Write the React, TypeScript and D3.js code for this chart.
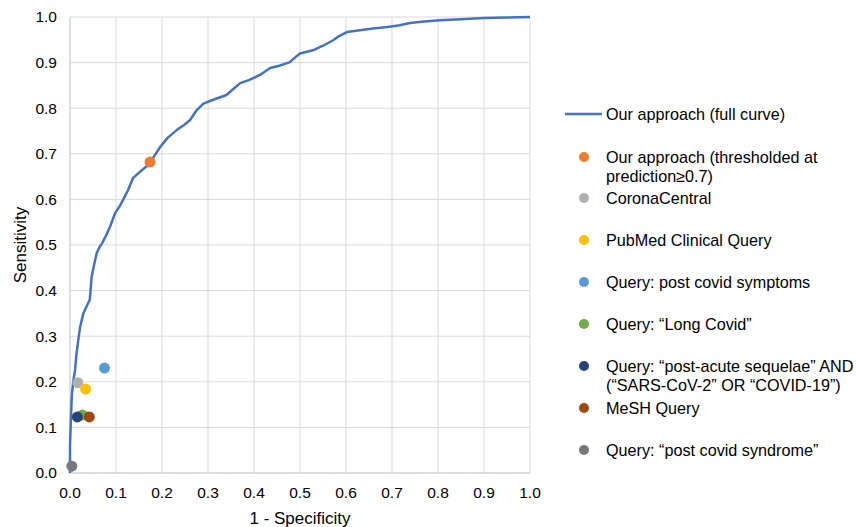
import React from 'react';
import * as d3 from 'd3';

// ROC curve
const curveFpr = [0, 0.0, 0.002, 0.004, 0.007, 0.011, 0.014, 0.018, 0.022, 0.029, 0.036, 0.043, 0.047, 0.052, 0.058, 0.064, 0.07, 0.078, 0.087, 0.098, 0.108, 0.116, 0.126, 0.137, 0.146, 0.156, 0.166, 0.174, 0.185, 0.196, 0.212, 0.232, 0.248, 0.261, 0.275, 0.29, 0.31, 0.34, 0.355, 0.37, 0.39, 0.413, 0.435, 0.455, 0.478, 0.49, 0.5, 0.528, 0.55, 0.572, 0.585, 0.602, 0.63, 0.659, 0.69, 0.717, 0.739, 0.77, 0.804, 0.85, 0.9, 0.95, 1.0];
const curveTpr = [0, 0.06, 0.12, 0.17, 0.2, 0.226, 0.26, 0.292, 0.32, 0.35, 0.365, 0.38, 0.43, 0.455, 0.482, 0.495, 0.504, 0.52, 0.54, 0.57, 0.585, 0.6, 0.62, 0.647, 0.655, 0.664, 0.672, 0.68, 0.698, 0.715, 0.735, 0.752, 0.763, 0.774, 0.795, 0.81, 0.818, 0.829, 0.842, 0.855, 0.862, 0.873, 0.888, 0.893, 0.901, 0.912, 0.92, 0.927, 0.937, 0.949, 0.958, 0.967, 0.971, 0.975, 0.978, 0.982, 0.987, 0.99, 0.993, 0.995, 0.998, 0.999, 1.0];

const pointNames = [
  ['Our approach (thresholded at', 'prediction\u22650.7)'],
  ['CoronaCentral'],
  ['PubMed Clinical Query'],
  ['Query: post covid symptoms'],
  ['Query: \u201cLong Covid\u201d'],
  ['Query: \u201cpost-acute sequelae\u201d AND', '(\u201cSARS-CoV-2\u201d OR \u201cCOVID-19\u201d)'],
  ['MeSH Query'],
  ['Query: \u201cpost covid syndrome\u201d'],
];
const pointFpr = [0.174, 0.017, 0.034, 0.075, 0.027, 0.016, 0.042, 0.004];
const pointTpr = [0.682, 0.198, 0.184, 0.23, 0.127, 0.123, 0.123, 0.015];
const pointColors = ['#ED7D31', '#AFAFAF', '#FFC000', '#5B9BD5', '#70AD47', '#264478', '#9E480E', '#787878'];
const legendRows = [157, 198, 240, 282, 324, 366, 408, 450];

const ticks = d3.range(0, 1.0001, 0.1);

const W = 856, H = 527;
const font = 'Liberation Sans, Arial, sans-serif';

export default function App() {
  const x = d3.scaleLinear().domain([0, 1]).range([70, 530]);
  const y = d3.scaleLinear().domain([0, 1]).range([473, 17]);
  const line = d3.line<number>()
    .x((_, i) => x(curveFpr[i]))
    .y((d) => y(d));

  return (
    <svg width={W} height={H} style={{ position: 'absolute', left: 0, top: 0 }} fontFamily={font}>
      <rect width={W} height={H} fill="#fff" />
      {ticks.map((t, i) => (
        <g key={'g' + i}>
          {i > 0 && <line x1={x(t)} x2={x(t)} y1={y(0)} y2={y(1)} stroke="#d9d9d9" strokeWidth={1} />}
          {i > 0 && <line x1={x(0)} x2={x(1)} y1={y(t)} y2={y(t)} stroke="#d9d9d9" strokeWidth={1} />}
        </g>
      ))}
      <line x1={x(0)} x2={x(0)} y1={y(0)} y2={y(1)} stroke="#bfbfbf" strokeWidth={1} />
      <line x1={x(0)} x2={x(1)} y1={y(0)} y2={y(0)} stroke="#bfbfbf" strokeWidth={1} />
      {ticks.map((t, i) => (
        <text key={'yt' + i} x={57} y={y(t)} dy="0.35em" textAnchor="end" fontSize={15.5} fill="#000">
          {t.toFixed(1)}
        </text>
      ))}
      {ticks.map((t, i) => (
        <text key={'xt' + i} x={x(t)} y={493} dy="0.35em" textAnchor="middle" fontSize={15.5} fill="#000">
          {t.toFixed(1)}
        </text>
      ))}
      <text x={x(0.5)} y={518} dy="0.35em" textAnchor="middle" fontSize={17} fill="#000">1 - Specificity</text>
      <text transform={`translate(20,${y(0.5)}) rotate(-90)`} dy="0.35em" textAnchor="middle" fontSize={17} fill="#000">Sensitivity</text>
      <path d={line(curveTpr) || ''} fill="none" stroke="#4472C4" strokeWidth={2.5} strokeLinejoin="round" />
      {pointFpr.map((f, i) => (
        <circle key={'p' + i} cx={x(f)} cy={y(pointTpr[i])} r={5.5} fill={pointColors[i]} />
      ))}
      <line x1={565} x2={602} y1={114} y2={114} stroke="#4472C4" strokeWidth={2.5} />
      <text x={606} y={114} dy="0.35em" fontSize={16.2} fill="#000">Our approach (full curve)</text>
      {pointNames.map((lines, i) => (
        <g key={'l' + i}>
          <circle cx={584} cy={legendRows[i]} r={5} fill={pointColors[i]} />
          {lines.map((s, j) => (
            <text key={j} x={606} y={legendRows[i] + j * 19.5} dy="0.35em" fontSize={16.2} fill="#000">{s}</text>
          ))}
        </g>
      ))}
    </svg>
  );
}
